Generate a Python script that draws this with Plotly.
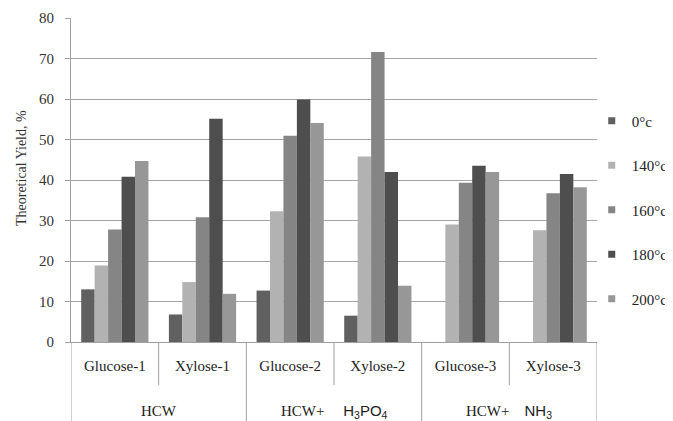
import plotly.graph_objects as go

categories = ["Glucose-1", "Xylose-1", "Glucose-2", "Xylose-2", "Glucose-3", "Xylose-3"]
groups = ["HCW", "HCW+\u00a0\u00a0\u00a0\u00a0\u00a0<span style='font-family:Liberation Sans'>H<sub>3</sub>PO<sub>4</sub></span>",
          "HCW+\u00a0\u00a0\u00a0\u00a0<span style='font-family:Liberation Sans'>NH<sub>3</sub></span>"]
series_names = ["0°c", "140°c", "160°c", "180°c", "200°c"]
y_0 = [13.0, 6.8, 12.7, 6.5, 0, 0]
y_140 = [18.9, 14.8, 32.3, 45.8, 29.0, 27.6]
y_160 = [27.8, 30.8, 50.9, 71.6, 39.3, 36.7]
y_180 = [40.8, 55.1, 59.9, 42.0, 43.5, 41.5]
y_200 = [44.7, 11.9, 54.1, 13.9, 42.0, 38.2]
series_values = [y_0, y_140, y_160, y_180, y_200]
colors = ["#606060", "#b2b2b2", "#858585", "#4e4e4e", "#979797"]
y_ticks = [0, 10, 20, 30, 40, 50, 60, 70, 80]

FONT = "Liberation Serif"
fig = go.Figure()
for name, vals, col in zip(series_names, series_values, colors):
    fig.add_trace(go.Bar(x=categories, y=vals, name=name, marker=dict(color=col, line=dict(width=0)),
                         showlegend=False))
for name, col in zip(series_names, colors):
    fig.add_trace(go.Scatter(x=[None], y=[None], mode="markers", name=name, legendgroup=name,
                             marker=dict(symbol="square", size=7, color=col)))

shapes = []
for xv in [-0.5, 1.5, 3.5, 5.5]:
    shapes.append(dict(type="line", xref="x", yref="paper", x0=xv, x1=xv, y0=0, y1=-0.245,
                       line=dict(color="#a0a0a0", width=1)))
for xv in [0.5, 2.5, 4.5]:
    shapes.append(dict(type="line", xref="x", yref="paper", x0=xv, x1=xv, y0=0, y1=-0.133,
                       line=dict(color="#a0a0a0", width=1)))

annotations = []
for i, g in enumerate(groups):
    annotations.append(dict(text=g, xref="x", yref="paper", x=2 * i + 0.5, y=-0.213, showarrow=False,
                            font=dict(family=FONT, size=15, color="#222"), xanchor="center", yanchor="middle"))
annotations.append(dict(text="Theoretical Yield, %", xref="paper", yref="paper", x=-0.095, y=0.537,
                        textangle=-90, showarrow=False, font=dict(family=FONT, size=14, color="#333"),
                        xanchor="center", yanchor="middle"))

# page body has an 8px default margin, so the figure is sized/offset to fit the 673x421 window
fig.update_layout(
    width=665, height=413,
    margin=dict(l=63, r=76, t=10, b=79, autoexpand=False),
    paper_bgcolor="white", plot_bgcolor="white",
    barmode="group", bargap=0.233, bargroupgap=0,
    font=dict(family=FONT, size=15, color="#333"),
    shapes=shapes, annotations=annotations,
    legend=dict(x=0.99, xanchor="left", y=0.733, yanchor="top", tracegroupgap=22,
                font=dict(family=FONT, size=15, color="#222"), bgcolor="rgba(0,0,0,0)"),
    xaxis=dict(type="category", range=[-0.5, 5.5], showline=True, linecolor="#a0a0a0", linewidth=1,
               ticks="", showgrid=False, tickfont=dict(family=FONT, size=15, color="#222"),
               ticklabelstandoff=10),
    yaxis=dict(range=[0, 80], tickvals=y_ticks, showgrid=True, gridcolor="#a5a5a5", gridwidth=1,
               showline=True, linecolor="#a0a0a0", linewidth=1, ticks="outside", ticklen=5,
               tickcolor="#a0a0a0", tickfont=dict(family=FONT, size=15, color="#333"),
               ticklabelstandoff=8, zeroline=False),
)
fig.write_html("out.html")
